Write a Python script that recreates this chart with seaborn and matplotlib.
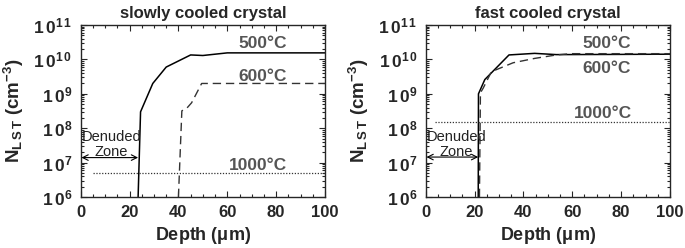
import numpy as np
import pandas as pd
import seaborn as sns
import matplotlib
matplotlib.use("Agg")
import matplotlib.pyplot as plt
from matplotlib.ticker import FuncFormatter, MultipleLocator, LogLocator, NullFormatter

# ---------------- data ----------------
titles = ["slowly cooled crystal", "fast cooled crystal"]
temps = ["500°C", "600°C", "1000°C"]

slow_500_x = [23.5, 24.5, 29.5, 35, 45, 50, 60, 100]
slow_500_y = [1e6, 3e8, 2e9, 6e9, 1.35e10, 1.3e10, 1.55e10, 1.55e10]
slow_600_x = [40.0, 41.4, 43.4, 45.4, 49.5, 100]
slow_600_y = [1e6, 3.2e8, 3.8e8, 5.5e8, 2e9, 2e9]
slow_1000_x = [5, 100]
slow_1000_y = [5e6, 5e6]

fast_500_x = [21.5, 21.6, 24.2, 34.1, 44.6, 53.5, 80, 100]
fast_500_y = [1e6, 1e9, 2.6e9, 1.35e10, 1.5e10, 1.38e10, 1.4e10, 1.42e10]
fast_600_x = [22.0, 22.4, 23.5, 26.9, 35.8, 44.6, 53.5, 59.6, 100]
fast_600_y = [1e6, 1.07e9, 1.45e9, 4.4e9, 8e9, 1.07e10, 1.35e10, 1.47e10, 1.47e10]
fast_1000_x = [4, 100]
fast_1000_y = [1.5e8, 1.5e8]

# label positions (x, log10 y) per panel
slow_label_pos = [(74.5, 10.45), (74.5, 9.5), (72.5, 6.93)]
fast_label_pos = [(74.0, 10.47), (74.0, 9.74), (72.5, 8.44)]
denuded_end = [23.5, 21.5]
arrow_y = [1.4e7, 1.45e7]

sns.set_style("ticks")
plt.rcParams["font.family"] = ["Liberation Sans", "DejaVu Sans"]
plt.rcParams["mathtext.fontset"] = "custom"
plt.rcParams["mathtext.rm"] = "Liberation Sans:bold"
plt.rcParams["mathtext.bf"] = "Liberation Sans:bold"
plt.rcParams["mathtext.it"] = "Liberation Sans:bold"

fig = plt.figure(figsize=(6.85, 2.48), dpi=100)
axes = [fig.add_axes([0.1178, 0.2056, 0.3567, 0.6935]),
        fig.add_axes([0.6215, 0.2056, 0.3565, 0.6935])]

panels = [
    (slow_500_x, slow_500_y, slow_600_x, slow_600_y, slow_1000_x, slow_1000_y, slow_label_pos),
    (fast_500_x, fast_500_y, fast_600_x, fast_600_y, fast_1000_x, fast_1000_y, fast_label_pos),
]

fmt = FuncFormatter(lambda v, p: r"$\mathbf{1\,0^{%s}}$" % r"\,".join(str(int(round(np.log10(v))))))

for i, ax in enumerate(axes):
    x5, y5, x6, y6, x10, y10, lp = panels[i]
    df5 = pd.DataFrame({"depth": x5, "N": y5})
    df6 = pd.DataFrame({"depth": x6, "N": y6})
    df10 = pd.DataFrame({"depth": x10, "N": y10})
    sns.lineplot(data=df5, x="depth", y="N", ax=ax, color="black", lw=1.1,
                 sort=False, estimator=None)
    sns.lineplot(data=df6, x="depth", y="N", ax=ax, color="#333333", lw=1.0,
                 sort=False, estimator=None, dashes=False)
    ax.lines[-1].set_dashes((6, 3.5))
    sns.lineplot(data=df10, x="depth", y="N", ax=ax, color="#333333", lw=0.9,
                 sort=False, estimator=None)
    ax.lines[-1].set_dashes((1, 1.3))

    ax.set_yscale("log")
    ax.set_xlim(0, 100)
    ax.set_ylim(1e6, 1e11)
    ax.xaxis.set_major_locator(MultipleLocator(20))
    ax.xaxis.set_minor_locator(MultipleLocator(5))
    ax.yaxis.set_major_locator(LogLocator(base=10, numticks=10))
    ax.yaxis.set_minor_locator(LogLocator(base=10, subs=np.arange(2, 10), numticks=20))
    ax.yaxis.set_minor_formatter(NullFormatter())
    ax.yaxis.set_major_formatter(fmt)
    ax.tick_params(which="both", direction="in", top=True, right=True, width=0.8)
    ax.tick_params(which="major", length=4)
    ax.tick_params(which="minor", length=2)
    ax.tick_params(axis="y", which="major", labelsize=12.5, pad=6)
    ax.tick_params(axis="x", which="major", labelsize=12, pad=6)
    for lab in ax.get_xticklabels():
        lab.set_fontweight("bold")

    for s in ax.spines.values():
        s.set_linewidth(1.0)

    ax.set_title(titles[i], fontsize=12, fontweight="bold", pad=5)
    ax.set_xlabel(r"Depth ($\mathbf{\mu}$m)", fontsize=13, fontweight="bold", labelpad=3)
    ax.set_ylabel(r"N$_{\mathbf{L\,S\,T}}$ (cm$^{\mathbf{-3}}$)", fontsize=13.5, fontweight="bold", labelpad=5)

    for (tx, ty), t in zip(lp, temps):
        ax.text(tx, 10 ** ty, t, ha="center", va="center", fontsize=12.5,
                fontweight="bold", color="#555555")

    ax.annotate("", xy=(0.3, arrow_y[i]), xytext=(denuded_end[i], arrow_y[i]),
                arrowprops=dict(arrowstyle="<->", color="black", lw=0.8,
                                shrinkA=0, shrinkB=0))
    ax.text(12.5, 10 ** 7.74, "Denuded", ha="center", va="center", fontsize=10.5,
            color="#222222")
    ax.text(12.5, 10 ** 7.32, "Zone", ha="center", va="center", fontsize=10.5,
            color="#222222")

fig.savefig("out.png", dpi=100)
